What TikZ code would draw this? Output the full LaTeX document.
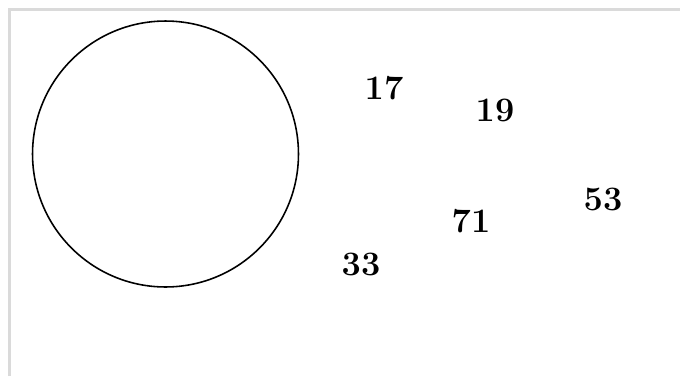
\documentclass[tikz,border=0pt]{standalone}
\usepackage{tikz}
\usetikzlibrary{positioning}
\definecolor{framegray}{RGB}{218,218,218}

\begin{document}
\begin{tikzpicture}[
      x = 0.02cm, y = -0.02cm,
      every node/.style = {font=\fontsize{19.5}{22}\selectfont\bfseries},
      num/.style = {inner sep=0pt},
      ring/.style = {draw, circle, line width=0.9pt, minimum size=5.32cm, inner sep=0pt}
    ]
    \useasboundingbox (0,0) rectangle (680,376);
    \draw[framegray, line width=1.2pt] (9.5,376) |- (680,9.5);
    \node[ring] (set) at (165.5,154) {};
    \node[num] (n17) at (384,88)  {17};
    \node[num] (n19) at (495,110) {19};
    \node[num] (n53) at (603,199) {53};
    \node[num] (n71) at (471,221) {71};
    \node[num] (n33) at (361,264) {33};
  \end{tikzpicture}
\end{document}
